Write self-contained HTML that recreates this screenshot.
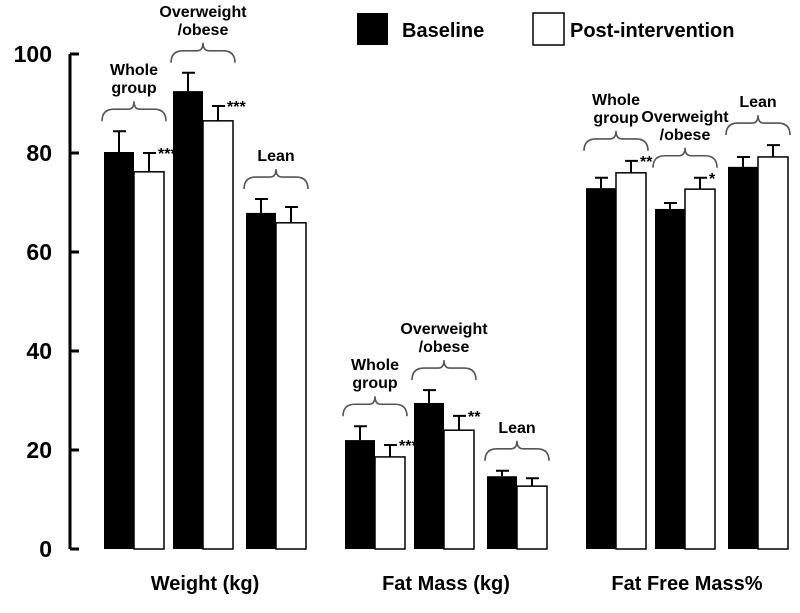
<!DOCTYPE html>
<html><head><meta charset="utf-8"><style>
body{margin:0;background:#fff;}
svg{display:block;font-family:"Liberation Sans",Arial,sans-serif;}
</style></head><body>
<svg id="chart" width="800" height="613" viewBox="0 0 800 613"></svg>
<script>
const categories=["Weight (kg)","Fat Mass (kg)","Fat Free Mass%"];
const groups=["Whole group","Overweight /obese","Lean"];
const baseline=[80.2,92.5,67.9, 22.0,29.5,14.7, 72.9,68.7,77.2];
const baselineErr=[4.2,3.7,2.8, 2.8,2.6,1.1, 2.1,1.2,2.0];
const post=[76.2,86.5,65.9, 18.6,24.0,12.7, 76.0,72.7,79.2];
const postErr=[3.8,3.0,3.2, 2.4,2.9,1.6, 2.4,2.3,2.4];
const stars=["***","***","", "***","**","", "**","*",""];
const yTicks=[0,20,40,60,80,100];
const svg=document.getElementById('chart');
const NS="http://www.w3.org/2000/svg";
const y0=549,yScale=4.95;
const Y=v=>y0-v*yScale;
const barLeft=[104,173,246, 345,414,487, 586,655,728];
const bw=30;
function mk(t,a,txt){const e=document.createElementNS(NS,t);for(const k in a)e.setAttribute(k,a[k]);if(txt!==undefined)e.textContent=txt;svg.appendChild(e);return e;}
let ax=mk('line',{x1:70,y1:Y(100),x2:70,y2:y0,stroke:'#000','stroke-width':3});


yTicks.forEach(t=>{
 let l=mk('line',{x1:70,y1:Y(t),x2:79,y2:Y(t),stroke:'#000','stroke-width':3});
 
 
 let tx=mk('text',{x:52,y:Y(t)+8,'text-anchor':'end','font-size':23,'font-weight':'bold'},String(t));
 
 
});
function errbar(cx,top,val){
 let p=mk('path',{d:`M${cx},${Y(val)} V${Y(top)} M${cx-6},${Y(top)} H${cx+7}`,stroke:'#000','stroke-width':2,fill:'none'});
 
 
}
function brace(x1,x2,yb){
 const m=(x1+x2)/2,yt=yb-20;
 let p=mk('path',{d:`M${x1},${yb} Q${x1},${yt+8} ${x1+12},${yt+8} H${m-6} Q${m},${yt+8} ${m},${yt} Q${m},${yt+8} ${m+6},${yt+8} H${x2-12} Q${x2},${yt+8} ${x2},${yb}`,stroke:'#555','stroke-width':1.6,fill:'none'});
 
 
 return yt;
}
baseline.forEach((v,i)=>{
 const x=barLeft[i];
 let b=mk('rect',{x:x,y:Y(v),width:bw,height:y0-Y(v),fill:'#000'});
 
 
 let w=mk('rect',{x:x+bw,y:Y(post[i]),width:bw,height:y0-Y(post[i]),fill:'#fff',stroke:'#000','stroke-width':1.5});
 
 
 errbar(x+bw/2,v+baselineErr[i],v);
 errbar(x+bw*1.5,post[i]+postErr[i],post[i]);
 const top=Math.max(v+baselineErr[i],post[i]+postErr[i]);
 const yb=Y(top)-10;
 const yt=brace(x-2,x+2*bw+2,yb);
 const lines=groups[i%3].split(' ');
 lines.forEach((ln,j)=>{
  let t=mk('text',{x:x+bw,y:yt-8-(lines.length-1-j)*18,'text-anchor':'middle','font-size':16,'font-weight':'bold'},ln);
  
  
 });
});
baseline.forEach((v,i)=>{
 if(!stars[i])return;
 const x=barLeft[i];
 let s=mk('text',{x:x+bw*1.5+9,y:Y(post[i]+postErr[i])+6,'font-size':16,'font-weight':'bold'},stars[i]);
 
 
});
categories.forEach((c,k)=>{
 const cx=(barLeft[k*3]+barLeft[k*3+2]+2*bw)/2;
 let t=mk('text',{x:cx,y:590,'text-anchor':'middle','font-size':20,'font-weight':'bold'},c);
 
 
});
let l1=mk('rect',{x:357,y:13,width:31,height:32,fill:'#000'});


let l1t=mk('text',{x:402,y:37,'font-size':20,'font-weight':'bold'},'Baseline');


let l2=mk('rect',{x:533,y:13,width:31,height:32,fill:'#fff',stroke:'#000','stroke-width':1.5});


let l2t=mk('text',{x:570,y:37,'font-size':20,'font-weight':'bold'},'Post-intervention');


</script>
</body></html>
